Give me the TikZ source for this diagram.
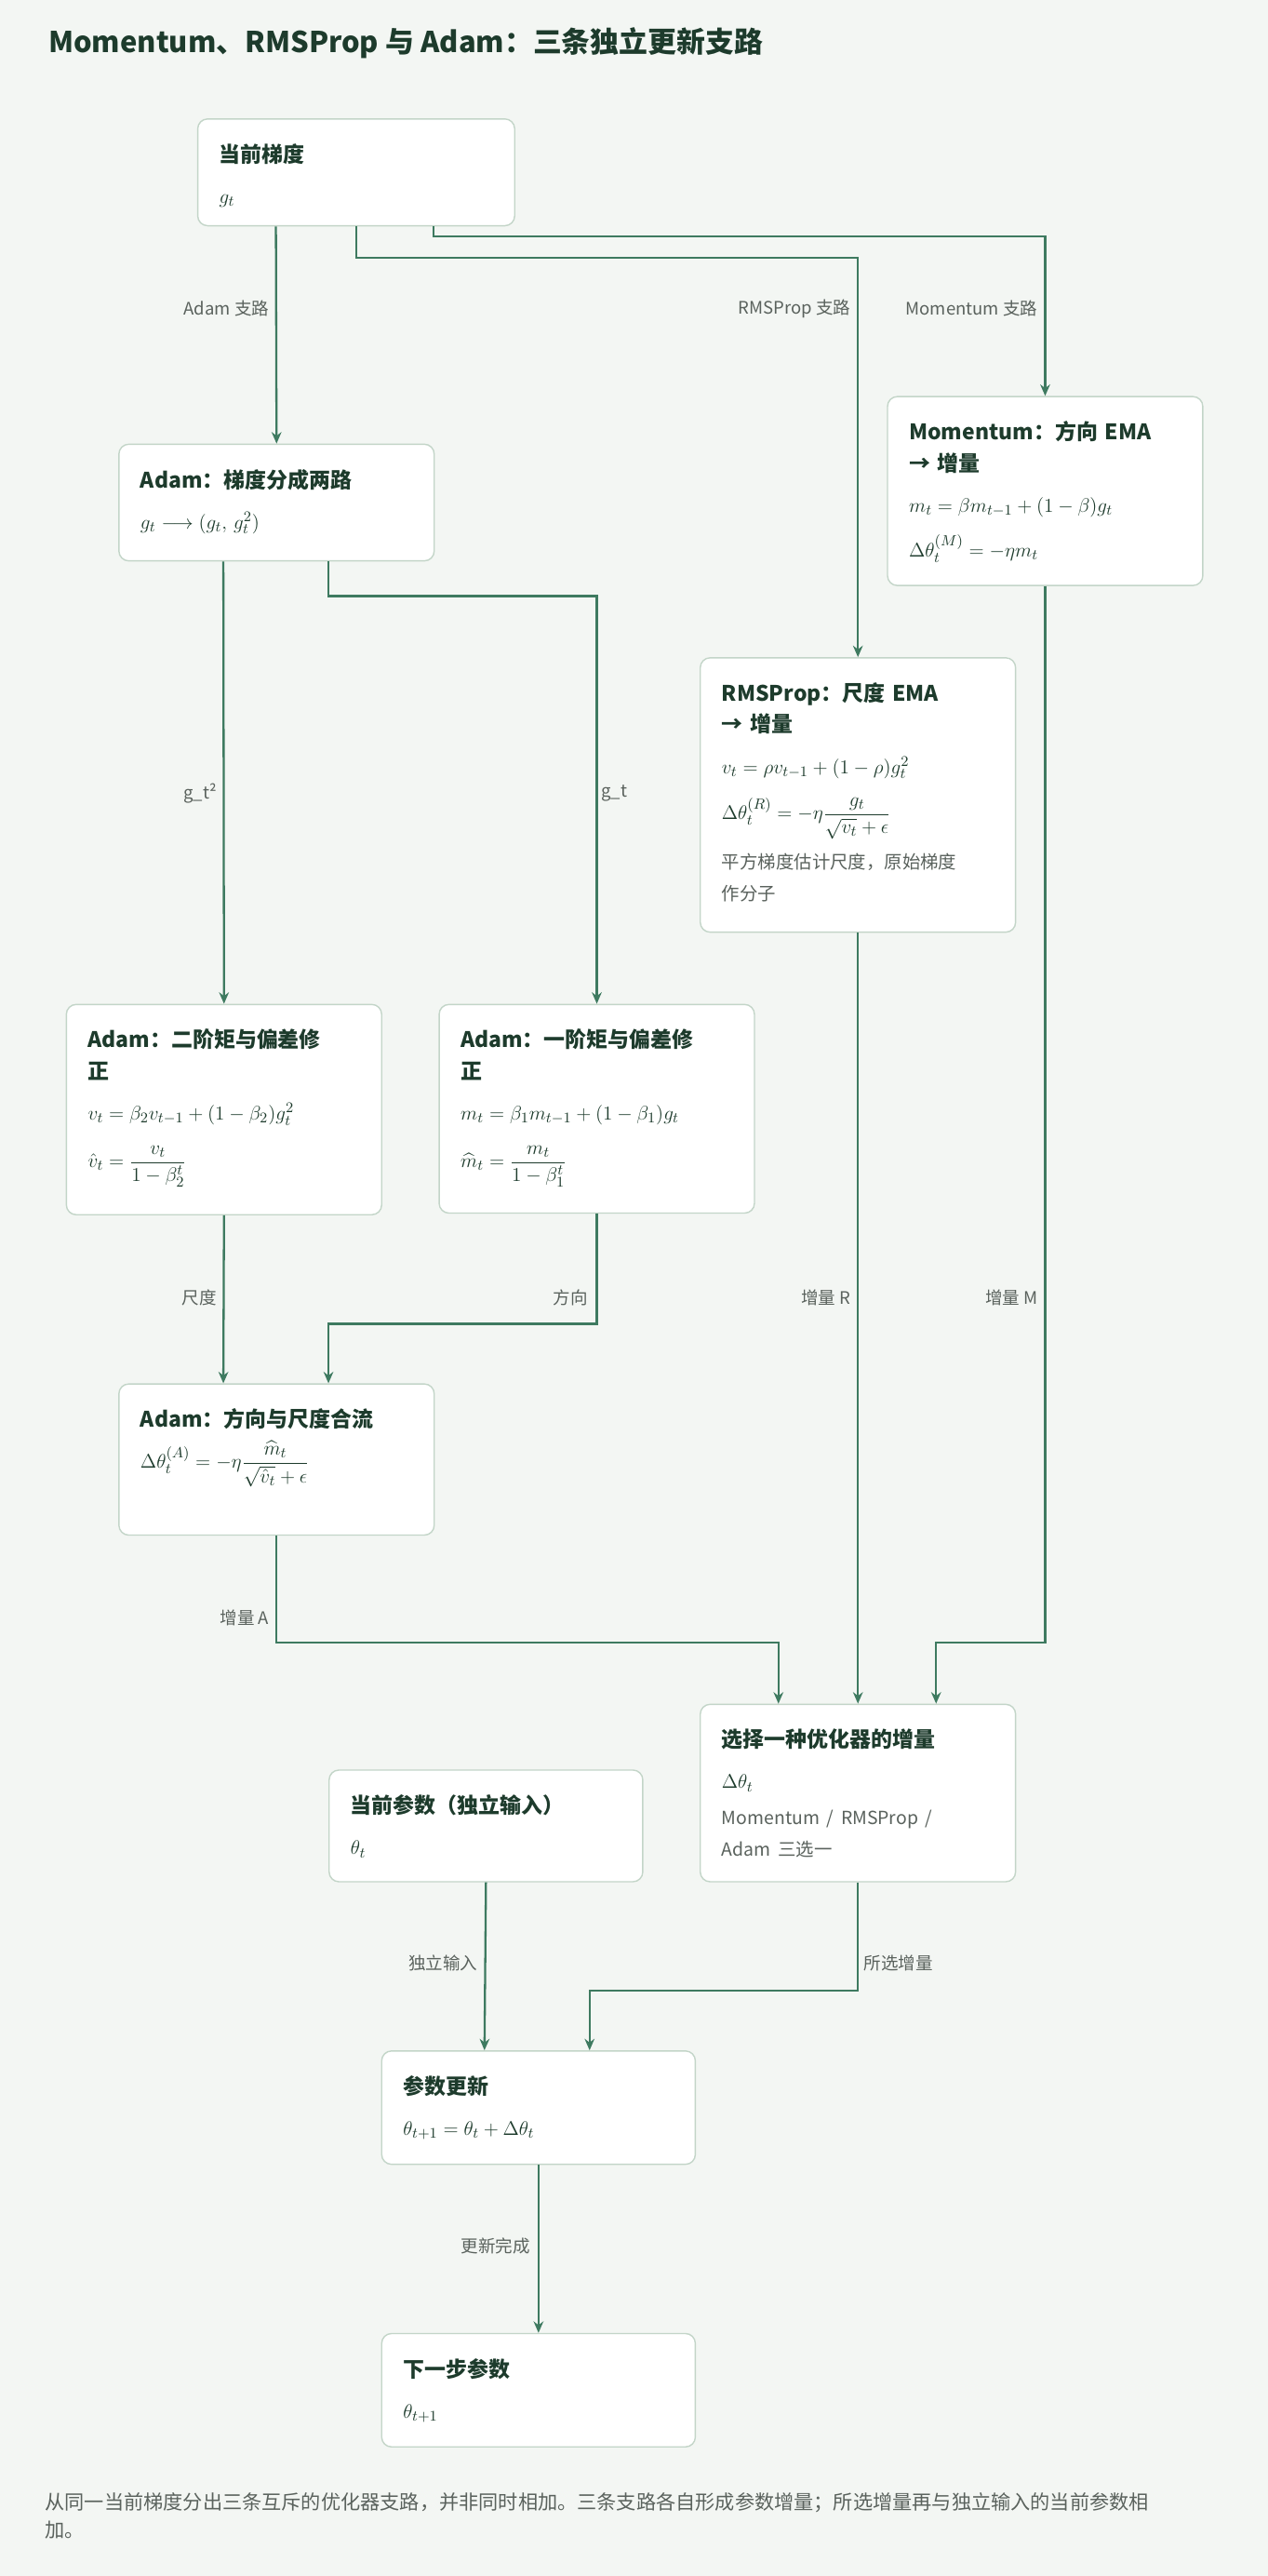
\documentclass[tikz,border=0pt]{standalone}
\usepackage{amsmath}
\usepackage{fontspec}
\setmainfont{Noto Sans CJK SC}
\usetikzlibrary{arrows.meta,positioning}
\definecolor{bgc}{HTML}{F3F6F3}
\definecolor{flowc}{HTML}{3E7A60}
\definecolor{edgec}{HTML}{C3D5C8}
\definecolor{headc}{HTML}{1D3B2C}
\definecolor{notec}{HTML}{5A625D}
\tikzset{
  box/.style={draw=edgec, fill=white, rounded corners=6pt, line width=0.8pt, anchor=north west},
  boxtext/.style={anchor=north west, align=left, font=\fontsize{13}{19}\selectfont, text=headc},
  flow/.style={draw=flowc, line width=1.3pt, -{Stealth[length=7pt,width=6pt]}},
  elabel/.style={font=\fontsize{10.5}{12}\selectfont, text=notec, fill=bgc, inner sep=2pt}
}
% one box: name, x, y, width, height, title, body
\newcommand{\optbox}[7]{%
  \node[box, minimum width=#4pt, minimum height=#5pt] (#1) at (#2,#3) {};
  \node[boxtext, text width=#4pt-20pt] (#1-txt) at ([shift={(10pt,-12pt)}]#1.north west)
    {{\bfseries\fontsize{13}{20}\selectfont #6}\\[6pt]#7};
}
\begin{document}
\begin{tikzpicture}[x=1pt, y=-1pt]
  \fill[bgc] (0,0) rectangle (772,1568);
  \node[anchor=west, font=\bfseries\fontsize{17.5}{20}\selectfont, text=headc] (title) at (26,26)
    {Momentum、RMSProp 与 Adam：三条独立更新支路};

  \optbox{grad}{120}{72}{193}{65}{当前梯度}{$g_t$}
  \optbox{split}{72}{270}{192}{71}{Adam：梯度分成两路}{$g_t \longrightarrow (g_t,\, g_t^2)$}
  \optbox{mom}{540}{241}{192}{115}{Momentum：方向 EMA\\→ 增量}
    {$m_t = \beta m_{t-1} + (1-\beta) g_t$\\[8pt]$\Delta\theta_t^{(M)} = -\eta m_t$}
  \optbox{rms}{426}{400}{192}{167}{RMSProp：尺度 EMA\\→ 增量}
    {$v_t = \rho v_{t-1} + (1-\rho) g_t^2$\\[9pt]$\Delta\theta_t^{(R)} = -\eta\dfrac{g_t}{\sqrt{v_t}+\epsilon}$\\[8pt]
     {\color{notec}\fontsize{11}{18}\selectfont 平方梯度估计尺度，原始梯度\\作分子}}
  \optbox{adamv}{40}{611}{192}{128}{Adam：二阶矩与偏差修\\正}
    {$v_t = \beta_2 v_{t-1} + (1-\beta_2) g_t^2$\\[10pt]$\hat v_t = \dfrac{v_t}{1-\beta_2^t}$}
  \optbox{adamm}{267}{611}{192}{127}{Adam：一阶矩与偏差修\\正}
    {$m_t = \beta_1 m_{t-1} + (1-\beta_1) g_t$\\[10pt]$\widehat{m}_t = \dfrac{m_t}{1-\beta_1^t}$}
  \optbox{merge}{72}{842}{192}{92}{Adam：方向与尺度合流}
    {\rule{0pt}{14pt}$\Delta\theta_t^{(A)} = -\eta\dfrac{\widehat{m}_t}{\sqrt{\hat v_t}+\epsilon}$}
  \optbox{select}{426}{1037}{192}{108}{选择一种优化器的增量}
    {$\Delta\theta_t$\\[4pt]{\color{notec}\fontsize{11}{18}\selectfont Momentum / RMSProp /\\Adam 三选一}}
  \optbox{param}{200}{1077}{191}{68}{当前参数（独立输入）}{$\theta_t$}
  \optbox{update}{232}{1248}{191}{69}{参数更新}{$\theta_{t+1} = \theta_t + \Delta\theta_t$}
  \optbox{next}{232}{1420}{191}{69}{下一步参数}{$\theta_{t+1}$}

  % branches out of the gradient
  \draw[flow] ([xshift=48pt]grad.south west) -- (split.north);
  \draw[flow] (grad.south) -- ++(0,19) -| (rms.north);
  \draw[flow] ([xshift=144pt]grad.south west) -- ++(0,6) -| (mom.north);
  \node[elabel, anchor=east] (lbl-adam) at (166,188) {Adam 支路};
  \node[elabel, anchor=east] (lbl-rms) at (520,188) {RMSProp 支路};
  \node[elabel, anchor=east] (lbl-mom) at (634,188) {Momentum 支路};

  % Adam internals
  \draw[flow] ([xshift=64pt]split.south west) -- (adamv.north);
  \draw[flow] ([xshift=128pt]split.south west) -- ++(0,21) -| (adamm.north);
  \node[elabel, anchor=east] (lbl-sq) at (134,483) {g\_t²};
  \node[elabel, anchor=west] (lbl-g) at (364,483) {g\_t};
  \draw[flow] (adamv.south) -- ([xshift=64pt]merge.north west);
  \draw[flow] (adamm.south) -- ++(0,67) -| ([xshift=128pt]merge.north west);
  \node[elabel, anchor=east] (lbl-scale) at (134,790) {尺度};
  \node[elabel, anchor=east] (lbl-dir) at (360,790) {方向};

  % increments into the selector
  \draw[flow] (merge.south) -- ++(0,65) -| ([xshift=48pt]select.north west);
  \draw[flow] (rms.south) -- (select.north);
  \draw[flow] (mom.south) -- ++(0,643) -| ([xshift=144pt]select.north west);
  \node[elabel, anchor=east] (lbl-a) at (166,985) {增量 A};
  \node[elabel, anchor=east] (lbl-r) at (520,790) {增量 R};
  \node[elabel, anchor=east] (lbl-m) at (634,790) {增量 M};

  % update
  \draw[flow] (param.south) -- ([xshift=63pt]update.north west);
  \draw[flow] (select.south) -- ++(0,66) -| ([xshift=127pt]update.north west);
  \draw[flow] (update.south) -- (next.north);
  \node[elabel, anchor=east] (lbl-in) at (293,1195) {独立输入};
  \node[elabel, anchor=west] (lbl-sel) at (524,1195) {所选增量};
  \node[elabel, anchor=east] (lbl-done) at (325,1367) {更新完成};

  \node[anchor=north west, text width=720pt, align=left, text=notec,
        font=\fontsize{12}{17}\selectfont] (foot) at (24,1514)
    {从同一当前梯度分出三条互斥的优化器支路，并非同时相加。三条支路各自形成参数增量；所选增量再与独立输入的当前参数相\\加。};
\end{tikzpicture}
\end{document}
